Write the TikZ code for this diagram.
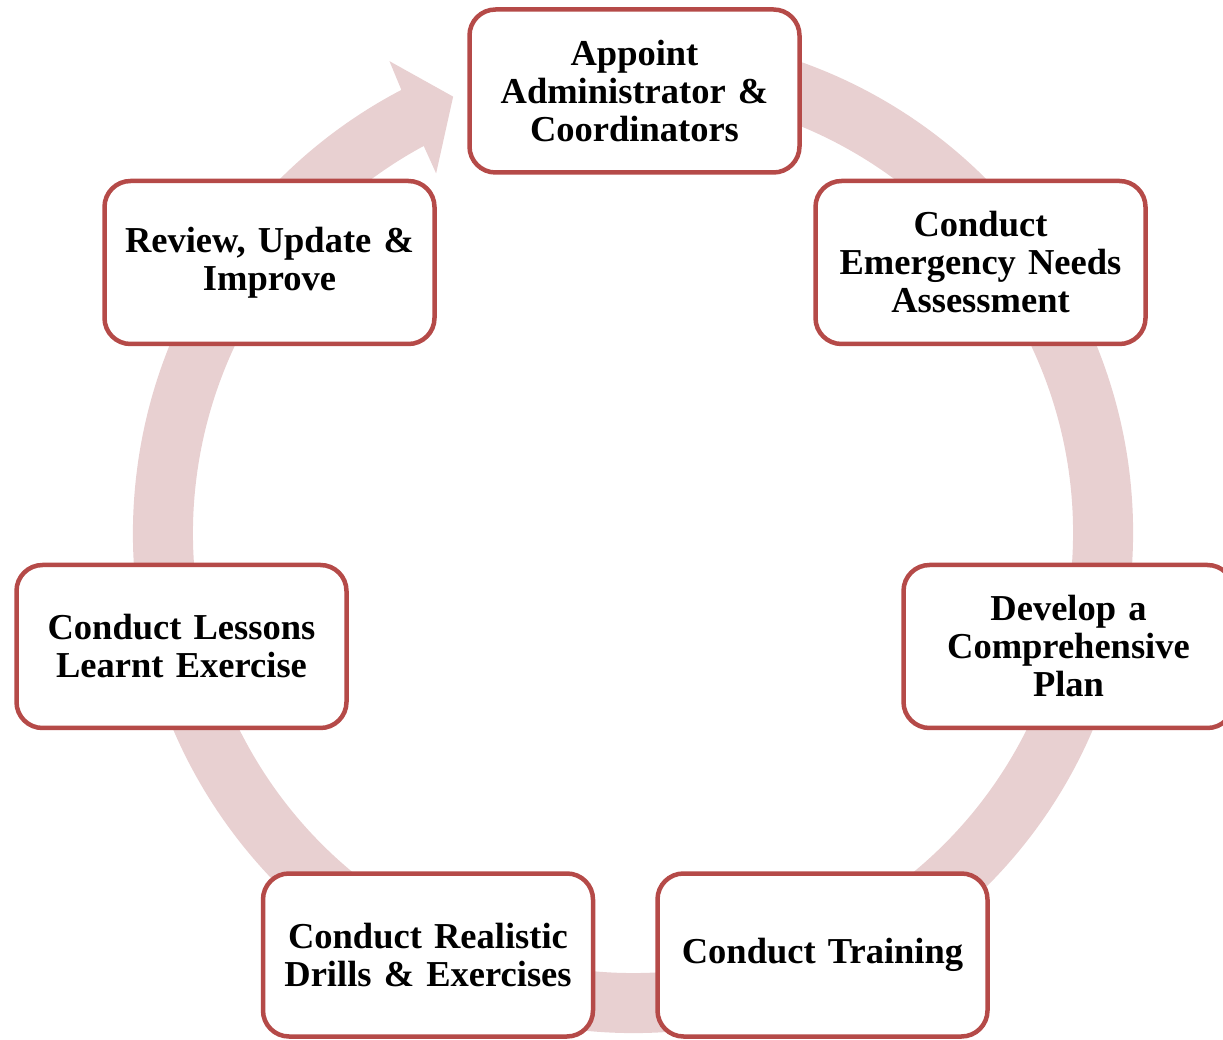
\documentclass[tikz,border=0pt]{standalone}
\usepackage{fontspec}
\setmainfont{Liberation Serif}
\usepackage{xcolor}
\usepackage{tikz}
\usetikzlibrary{positioning, calc}
\definecolor{ringpink}{RGB}{232,208,209}
\definecolor{boxred}{RGB}{181,74,72}
\tikzset{
  stagebox/.style={rectangle, draw=boxred, line width=4.5pt, fill=white, rounded corners=26pt, minimum width=330pt, minimum height=163pt, text width=322pt, align=center, inner sep=0pt, font=\fontsize{36.5}{38}\selectfont\bfseries},
  ring/.style={fill=ringpink},
}
\begin{document}
\begin{tikzpicture}[x=1pt, y=1pt]
  \useasboundingbox (0,0) rectangle (1223,1039);
  \coordinate (c) at (633,506);
  \begin{scope}[shift={(c)}]
    \fill[ring] (80:500pt) arc[start angle=80, end angle=-242.4, radius=500pt]
      -- (-242.7:531pt) -- (-247.6:472pt) -- (-241.3:410pt) -- (-241.6:440pt)
      arc[start angle=-241.6, end angle=80, radius=440pt] -- cycle;
  \end{scope}
  \node[stagebox] (appoint) at (634.5, 948) {Appoint\\Administrator \&\\Coordinators};
  \node[stagebox] (needs) at (980.5, 776.5) {Conduct\\Emergency Needs\\Assessment};
  \node[stagebox] (plan) at (1068.5, 392.5) {Develop a\\Comprehensive\\Plan};
  \node[stagebox] (training) at (822.5, 84) {Conduct Training};
  \node[stagebox] (drills) at (428, 84) {Conduct Realistic\\Drills \& Exercises};
  \node[stagebox] (lessons) at (181.5, 392.5) {Conduct Lessons\\Learnt Exercise};
  \node[stagebox] (review) at (269.5, 776.5) {Review, Update \&\\Improve};
\end{tikzpicture}
\end{document}
